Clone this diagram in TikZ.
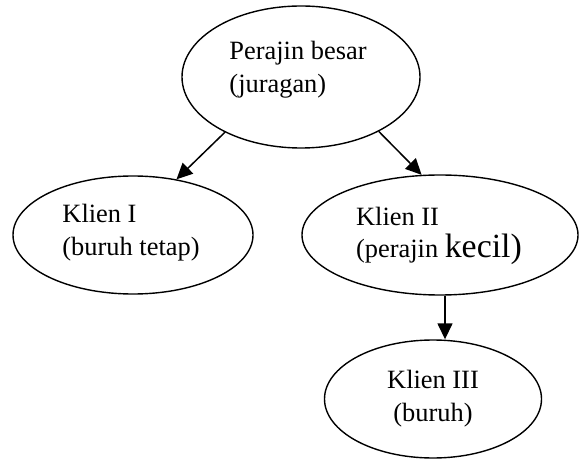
\documentclass[tikz,border=0pt]{standalone}
\usepackage{fontspec}
\setmainfont{Liberation Serif}
\usetikzlibrary{arrows.meta,shapes.geometric}
\begin{document}
\begin{tikzpicture}[x=1bp,y=-1bp,
 oval/.style={ellipse,draw,line width=1.4bp,inner sep=0pt},
 txt/.style={inner sep=0pt,align=left,font=\fontsize{26.5}{33}\selectfont},
 arr/.style={line width=1.5bp,-{Triangle[length=16bp,width=15bp]}}]
\useasboundingbox (0,0) rectangle (579,459);
\node[oval,minimum width=238bp,minimum height=142bp] (top) at (301,77) {};
\node[txt] (toptxt) at (298,70) {Perajin besar\\(juragan)};
\node[oval,minimum width=240bp,minimum height=118bp] (k1) at (133,235) {};
\node[txt] (k1txt) at (131,233) {Klien I\\(buruh tetap)};
\node[oval,minimum width=276bp,minimum height=120bp] (k2) at (440,235) {};
\node[txt] (k2txt) at (439,236) {Klien II\\(perajin {\fontsize{34}{33}\selectfont kecil)}};
\node[oval,minimum width=217bp,minimum height=118bp] (k3) at (433,399) {};
\node[txt,align=center] (k3txt) at (433,399) {Klien III\\(buruh)};
\draw[arr] (top.216) -- (k1.52);
\draw[arr] (top.325) -- (k2.107);
\draw[arr] ([xshift=5bp]k2.south) -- ([xshift=5bp]k2.south |- k3.north);
\end{tikzpicture}
\end{document}
